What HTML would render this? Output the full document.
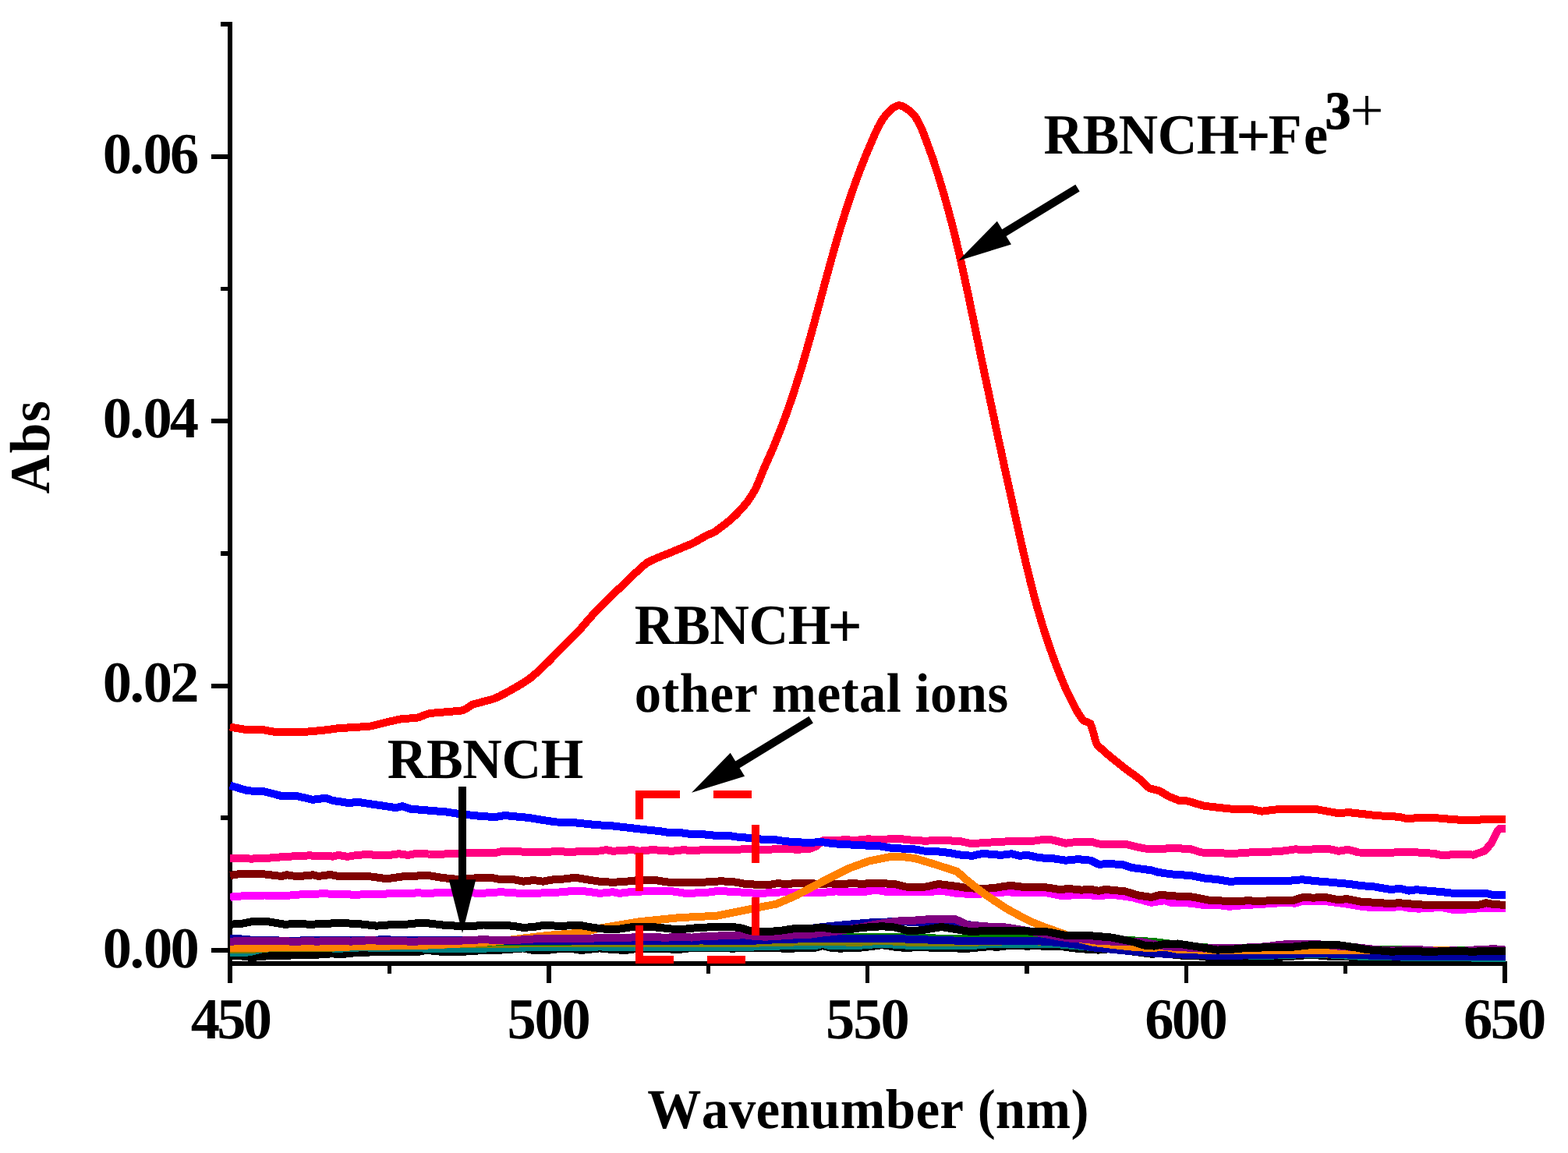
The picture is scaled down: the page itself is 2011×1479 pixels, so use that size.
<!DOCTYPE html>
<html lang="en"><head><meta charset="utf-8"><title>Absorbance spectra: RBNCH with Fe3+ and other metal ions</title>
<style>html,body{margin:0;padding:0;background:#fff}body{width:2011px;height:1479px;overflow:hidden}svg{display:block}text{font-family:"Liberation Serif",serif;font-weight:bold;font-kerning:none;fill:#000;white-space:pre;text-rendering:geometricPrecision}.c path{fill:none;stroke-linejoin:round;stroke-linecap:butt}</style></head><body>
<svg width="2011" height="1479" viewBox="0 0 2011 1479" role="img" aria-label="Absorbance spectra of RBNCH with Fe3+ and other metal ions">
<rect width="2011" height="1479" fill="#fff"/>
<g fill="#000" shape-rendering="crispEdges"><rect x="292" y="28" width="6" height="1233"/><rect x="292" y="1233" width="1641" height="6"/><rect x="271" y="198" width="22" height="6"/><rect x="271" y="537" width="22" height="6"/><rect x="271" y="877" width="22" height="6"/><rect x="271" y="1216" width="22" height="6"/><rect x="283" y="28" width="10" height="6"/><rect x="283" y="368" width="10" height="5"/><rect x="283" y="707" width="10" height="6"/><rect x="283" y="1046" width="10" height="6"/><rect x="701" y="1238" width="6" height="23"/><rect x="1110" y="1238" width="5" height="23"/><rect x="1519" y="1238" width="5" height="23"/><rect x="1927" y="1238" width="6" height="23"/><rect x="497" y="1238" width="5" height="11"/><rect x="906" y="1238" width="5" height="11"/><rect x="1314" y="1238" width="6" height="11"/><rect x="1723" y="1238" width="5" height="11"/></g>
<g class="c" shape-rendering="crispEdges"><path d="M295.2 1100.6 L308.75 1101.04 L322.3 1101.6 L336.37 1101.02 L350.43 1100.31 L364.5 1098.9 L380.15 1098.27 L395.8 1097.42 L411.45 1097.8 L427.1 1098.6 L433.8 1096.9 L445.7 1098.9 L457.5 1096.9 L471.6 1096.01 L485.7 1097.18 L499.8 1096.9 L511.6 1095.2 L523.4 1096.9 L533.6 1094.9 L550.5 1095.55 L567.4 1095.57 L584.3 1095.2 L600 1093.9 L616.9 1094.49 L633.8 1094.4 L644 1091.8 L664.2 1091.8 L676.1 1093.5 L701.4 1093.2 L715 1091.5 L731.9 1093.5 L743.7 1091.8 L769.1 1091.5 L777.5 1090.1 L786 1091.8 L811.3 1090.1 L819.8 1091.8 L836.7 1090.1 L862 1091.8 L877.3 1090.1 L887.4 1091.5 L904.3 1089.8 L922.15 1090.31 L940 1089.8 L959.2 1089.25 L978.4 1089.8 L993.3 1089.42 L1008.2 1088.89 L1023.1 1089.8 L1040 1088.5 L1047 1085.3 L1055.9 1077.9 L1069.83 1078.38 L1083.77 1077.15 L1097.7 1077.9 L1112.6 1076.4 L1127.55 1076.76 L1142.5 1076.4 L1157.4 1076.39 L1172.3 1078 L1187.2 1078.7 L1202.1 1077.9 L1217.05 1078.27 L1232 1079.3 L1246.9 1082.3 L1262 1081 L1280 1080 L1293.8 1079.24 L1307.6 1079.2 L1321.7 1079.23 L1335.8 1077.27 L1349.9 1077.5 L1366.8 1081.7 L1383.7 1079.53 L1400.6 1080 L1409.1 1082.5 L1426 1082.82 L1442.9 1082.5 L1459.8 1086.8 L1473.3 1089.3 L1490.2 1089.3 L1502 1087.6 L1527.4 1089.3 L1540.9 1093.5 L1560 1093.9 L1576.9 1094.9 L1593.8 1094.33 L1610.7 1092.61 L1627.6 1092.7 L1644.5 1091.7 L1661.4 1089.3 L1675.5 1090.43 L1689.6 1088.7 L1703.7 1088.8 L1717.2 1091.8 L1729.1 1089.8 L1742.6 1093.5 L1756.95 1093.66 L1771.3 1094.4 L1788.2 1093.5 L1805.13 1093.03 L1822.07 1093.6 L1839 1094.9 L1847.4 1096.6 L1861.5 1096.49 L1875.6 1095.81 L1889.7 1096.6 L1904.4 1091.4 L1913.2 1080.9 L1920.2 1066.8 L1923.7 1062.9 L1931 1062.9" stroke="#ff0080" stroke-width="10" /><path d="M295.2 1150.7 L309.87 1149.44 L324.53 1149.4 L339.2 1148.5 L352.49 1148.81 L365.77 1149.14 L379.06 1147.74 L392.34 1147.11 L405.63 1146.55 L418.91 1146.37 L432.2 1147.3 L457.5 1147.6 L474.4 1147.22 L491.3 1146.8 L506.1 1145.77 L520.9 1146.06 L535.7 1145.36 L550.5 1145.9 L567 1144.84 L583.5 1144.86 L600 1145.1 L616.9 1145.9 L642.3 1144.2 L667.6 1145.9 L684.5 1146.01 L701.4 1145.1 L718.35 1144.47 L735.3 1142.9 L752.2 1143.54 L769.1 1145.9 L786 1144.2 L794.4 1145.9 L811.3 1143.77 L828.2 1143.4 L845.1 1142.9 L862.05 1143.23 L879 1145.9 L904.3 1145.1 L921.2 1142.9 L945.4 1144.2 L970.7 1145.9 L987.6 1145.34 L1004.5 1144.2 L1018.04 1144.85 L1031.58 1144.92 L1045.12 1144.91 L1058.66 1144.63 L1072.2 1143.4 L1089 1144.2 L1105.95 1144.42 L1122.9 1141.7 L1139.8 1144.26 L1156.7 1144.2 L1173.6 1144.25 L1190.5 1144.2 L1207.4 1142.6 L1224.3 1145.49 L1241.2 1146.8 L1260 1146.5 L1275.35 1145.68 L1290.7 1144.2 L1307.6 1145.21 L1324.5 1145.26 L1341.4 1145.1 L1358.3 1148.5 L1372.4 1148.55 L1386.5 1148.22 L1400.6 1148.5 L1409.1 1149.3 L1426 1147.6 L1451.3 1151 L1476.7 1157.8 L1493.6 1155.2 L1502 1157.8 L1527.4 1158.6 L1544.3 1161.1 L1561.2 1160.8 L1576.9 1162.8 L1593.8 1161.27 L1610.7 1160.3 L1627.6 1159.2 L1644.5 1158.08 L1661.4 1158.6 L1669.9 1156.1 L1685.1 1156.32 L1700.3 1156.1 L1720.6 1158.6 L1746 1162.8 L1762.9 1164.4 L1779.8 1164.5 L1796.7 1162.8 L1805.1 1164.5 L1819.2 1165.64 L1833.3 1165.02 L1847.4 1163.7 L1864.3 1167.1 L1889.7 1166.2 L1900 1164.5 L1915.5 1165.34 L1931 1165" stroke="#ff00ff" stroke-width="10" /><path d="M295.2 1123.1 L305.4 1121.4 L322.3 1120.54 L339.2 1121.4 L361.1 1124 L367.9 1122.3 L381.4 1124.3 L401.7 1122.3 L408.5 1124 L423.7 1121.9 L435.5 1124.3 L454.95 1124.36 L474.4 1124.3 L496.4 1127.3 L516.7 1124.3 L531.9 1123.81 L547.1 1122.6 L567.4 1126 L584.3 1127.7 L601.2 1127.3 L613.5 1126 L630.4 1126 L642.3 1128.2 L659.2 1128.2 L671 1130.7 L684.5 1129 L696.4 1130.7 L709.9 1128.2 L726.8 1127.3 L736.9 1125.6 L752.2 1128.2 L769.1 1130.7 L786 1131.83 L802.9 1130.7 L819.8 1129 L840.1 1129 L862 1132.4 L878.95 1132.41 L895.9 1132.4 L912.8 1130.7 L926.55 1130.37 L940.3 1131.1 L957.2 1134.1 L972.4 1134.77 L987.6 1134.9 L996.1 1133.3 L1010.17 1133.77 L1024.23 1133.08 L1038.3 1133.3 L1051.84 1133.71 L1065.38 1133.41 L1078.92 1134.17 L1092.46 1133.12 L1106 1133.8 L1122.9 1132.7 L1148.2 1134.1 L1161.8 1137.5 L1187.1 1137.5 L1204 1134.1 L1224.3 1136.6 L1241.2 1139.2 L1260 1140 L1273.8 1139.2 L1295.8 1135.8 L1316.1 1138.3 L1341.4 1138.3 L1358.3 1140.9 L1372.4 1140.13 L1386.5 1141.59 L1400.6 1141.2 L1409.1 1142.9 L1417.5 1140.9 L1442.9 1143.4 L1459.8 1148.5 L1476.7 1151 L1488.5 1147.6 L1502 1149.3 L1527.4 1150.2 L1552.8 1155.2 L1569.1 1155.56 L1585.4 1156.1 L1602.3 1155.2 L1614.1 1156.4 L1627.6 1155.2 L1642.85 1154.63 L1658.1 1155.2 L1669.9 1151.3 L1685.1 1151.56 L1700.3 1151 L1717.2 1154.4 L1727.4 1153 L1746 1156.9 L1771.3 1158.1 L1783.2 1159.5 L1793.3 1158.1 L1813.6 1159.8 L1830.5 1160.93 L1847.4 1161.1 L1861.5 1160.54 L1875.6 1160.96 L1889.7 1161.1 L1900 1160.3 L1906.1 1158.2 L1914.9 1160 L1931 1160.9" stroke="#800000" stroke-width="10" /><path d="M295 1226.2 L310 1226.4 L320 1227.8 L335 1227.3 L345 1226 L358 1226.05 L371 1226 L376 1224.5 L395 1225.1 L414 1224.3 L425 1223.3 L438 1224.19 L451 1222.57 L464 1222 L485 1221 L500.85 1221.45 L516.7 1220.6 L533.6 1221.4 L547.1 1218.9 L567.4 1220.9 L592.8 1220.6 L606.4 1220.34 L620 1218.6 L635.35 1219.04 L650.7 1218.1 L671 1216.4 L684.5 1219 L701.4 1219 L718.3 1217 L735.3 1217.3 L745.4 1219 L769.1 1216.4 L786 1218.1 L802.9 1219 L819.8 1216.4 L836.7 1217.3 L853.6 1217.15 L870.5 1218.1 L887.4 1215.96 L904.3 1216.4 L920.8 1215.57 L937.3 1216.57 L953.8 1216.4 L967.32 1215.93 L980.84 1216.19 L994.36 1215.9 L1007.88 1216.94 L1021.4 1216.4 L1046.8 1215.5 L1055.2 1213 L1063.7 1215.5 L1077.8 1216.72 L1091.9 1215.83 L1106 1215.5 L1131.3 1212.2 L1148.2 1214.7 L1162.3 1216.21 L1176.4 1214.83 L1190.5 1215.5 L1207.4 1216.46 L1224.3 1216.4 L1240 1216.9 L1265.4 1214.4 L1280.6 1214.6 L1295.8 1212.7 L1316.1 1213.6 L1330.17 1213.31 L1344.23 1213.92 L1358.3 1213.6 L1375.2 1216.1 L1392.15 1217.62 L1409.1 1218.6 L1426 1216.9 L1451.3 1220.3 L1476.7 1223.7 L1493.6 1222.9 L1510.5 1225.4 L1535.9 1226.2 L1550.6 1228.09 L1565.3 1227.6 L1580 1228.5 L1595 1228.78 L1610 1229 L1623.33 1229.19 L1636.67 1228.36 L1650 1227 L1663.33 1226.36 L1676.67 1224.96 L1690 1225.4 L1703.33 1226.63 L1716.67 1226.98 L1730 1227.5 L1745 1229.42 L1760 1229 L1773.15 1228.78 L1786.31 1229.65 L1799.46 1230.06 L1812.62 1230.5 L1825.77 1228.74 L1838.92 1228.75 L1852.08 1228.06 L1865.23 1229.32 L1878.38 1229.03 L1891.54 1230.25 L1904.69 1229.54 L1917.85 1230.12 L1931 1229.5" stroke="#000" stroke-width="10" /><path d="M295 1221.7 L320 1221.5 L335 1217.5 L345 1216.3 L420 1216.3 L434 1216.8 L464 1215.3 L485 1215.8 L540 1216.5 L600 1217 L700 1215 L769 1214.5 L940 1215.3 L1000 1213.5 L1046 1213 L1055 1211 L1064 1213 L1100 1213 L1131 1210.5 L1160 1212.5 L1240 1213.5 L1265 1211.5 L1300 1210.8 L1360 1211.5 L1400 1215 L1450 1218 L1500 1221 L1560 1224.5 L1620 1226 L1690 1223.5 L1750 1227 L1931 1229" stroke="#008080" stroke-width="10" /><path d="M295 1217.8 L330 1217.5 L345 1216.3 L420 1216.3 L434 1215 L464 1214 L485 1212.3 L540 1212 L600 1211.1 L700 1210.2 L769 1210.2 L940 1210.2 L1000 1209 L1055 1207.5 L1100 1209 L1131 1206.5 L1160 1208.5 L1240 1209 L1300 1207 L1360 1208 L1400 1211 L1450 1215 L1500 1219 L1560 1222 L1931 1226" stroke="#808000" stroke-width="10" /><path d="M295 1211 L700 1208 L900 1205 L1000 1203.5 L1075 1202 L1150 1202 L1200 1203.5 L1240 1204 L1270 1204.5 L1320 1204 L1380 1205 L1440 1205.5 L1480 1208 L1520 1213 L1560 1216.5 L1640 1215.5 L1700 1213 L1760 1218 L1931 1219.5" stroke="#008000" stroke-width="10" /><path d="M295 1208 L900 1204 L1000 1196 L1055 1189 L1089 1185.7 L1123 1182.8 L1148 1182.3 L1200 1183 L1240 1186 L1300 1192 L1350 1198 L1400 1206 L1450 1212 L1500 1218 L1560 1222 L1931 1224" stroke="#0000a0" stroke-width="10" /><path d="M295 1203.9 L310 1204.5 L330 1206.3 L345 1206 L370 1207 L400 1206 L430 1206.5 L450 1206 L485 1205.5 L495 1204.8 L505 1206 L560 1206.5 L600 1207.5 L700 1207 L800 1207 L900 1206.5 L960 1207 L1000 1205 L1055 1203.8 L1140 1203.8 L1190 1205.5 L1240 1207 L1290.7 1206.8 L1341.4 1207.6 L1375.2 1211 L1400.6 1215.2 L1442.9 1219.5 L1493.6 1223.7 L1544.3 1225.5 L1580 1225.8 L1640 1224.5 L1690 1223 L1740 1225 L1800 1227 L1931 1227.5" stroke="#0000a0" stroke-width="10" /><path d="M295 1216 L450 1214.5 L550 1212.5 L620 1209 L650.7 1206 L701.4 1200 L743.7 1196.7 L769.1 1190.7 L819.8 1182.3 L870.5 1177.2 L920 1174.7 L962.3 1166.2 L996.1 1159.5 L1021.4 1148.5 L1055.2 1130.7 L1089 1113.8 L1114.4 1104.5 L1139.8 1099.4 L1156.7 1098.9 L1173.6 1101.1 L1198.9 1108.7 L1227.7 1118 L1237.8 1127.3 L1256.9 1142.6 L1273.8 1154.4 L1290.7 1165.4 L1307.6 1174.7 L1324.5 1183.1 L1341.4 1189.9 L1358.3 1195.8 L1375.2 1202 L1400.6 1208.6 L1426 1211.9 L1451.3 1214.5 L1476.7 1216.2 L1493.6 1214.5 L1510.5 1217.9 L1544.3 1218.7 L1580 1219.3 L1700 1219 L1931 1219.7" stroke="#ff8000" stroke-width="10" /><path d="M295 1207.6 L309.09 1207.3 L323.18 1207.42 L337.27 1207.34 L351.36 1207.36 L365.45 1207.29 L379.55 1207.81 L393.64 1207.16 L407.73 1207.7 L421.82 1206.57 L435.91 1206.7 L450 1207.6 L463.64 1206.69 L477.27 1206.18 L490.91 1207.19 L504.55 1206.61 L518.18 1207.33 L531.82 1207.94 L545.45 1206.58 L559.09 1207.3 L572.73 1207.36 L586.36 1206.99 L600 1206 L616.9 1205.34 L633.8 1205.61 L650.7 1206 L667.6 1205.54 L684.5 1204.46 L701.4 1204.3 L718.33 1203.51 L735.27 1203.53 L752.2 1204.3 L769.1 1202.85 L786 1203.4 L802.9 1202.6 L819.8 1202.37 L836.7 1202.33 L853.6 1202.6 L870.5 1202.23 L887.4 1202.54 L904.3 1200.9 L922.15 1200.48 L940 1200 L954.02 1199.23 L968.05 1201.05 L982.08 1201.68 L996.1 1200.9 L1021.4 1199.2 L1038.2 1198.94 L1055 1196.5 L1072 1194.79 L1089 1192 L1106 1189 L1122.9 1185.71 L1139.8 1183.1 L1156.7 1180.94 L1173.6 1180.6 L1190.5 1179.19 L1207.4 1179 L1224.3 1178.9 L1232.8 1182.3 L1241.2 1186.5 L1260 1188 L1273.8 1189 L1290.7 1189.54 L1307.6 1192.4 L1324.5 1195.26 L1341.4 1198.3 L1358.2 1201.61 L1375 1204 L1392 1204.64 L1409 1207 L1425.93 1207.57 L1442.87 1207.55 L1459.8 1207.6 L1480 1211 L1495.25 1213.99 L1510.5 1215 L1527.33 1215.76 L1544.17 1216.56 L1561 1216.1 L1577.33 1216 L1593.67 1215.74 L1610 1215 L1625 1214.17 L1640 1212.02 L1655 1210.78 L1670 1211 L1686.67 1210.86 L1703.33 1212.28 L1720 1214 L1737 1214.92 L1754 1216.88 L1771 1218.6 L1784.33 1218.87 L1797.67 1218.5 L1811 1218.16 L1824.33 1218.43 L1837.67 1219.52 L1851 1219.64 L1864.33 1219.41 L1877.67 1219.66 L1891 1218.48 L1904.33 1217.67 L1917.67 1217.29 L1931 1218.6" stroke="#800080" stroke-width="10" /><path d="M295 1007.6 L317.6 1014.3 L338.5 1015.3 L359.4 1020.6 L380.3 1021 L401.1 1025.8 L417.8 1023.7 L426.2 1026.8 L447.1 1030 L459.6 1028.9 L480.5 1032.1 L494.1 1034.05 L507.7 1036.2 L516 1034.1 L526.5 1037.7 L547.3 1039.4 L572.4 1041.5 L589.1 1044 L614.2 1046.7 L635 1048.1 L647.6 1046 L662.2 1047.48 L676.8 1048.8 L700 1052.5 L713.23 1054.47 L726.47 1054.86 L739.7 1055.5 L753.42 1056.98 L767.14 1058.37 L780.86 1058.83 L794.58 1060.47 L808.3 1062 L826.2 1064.13 L844.1 1065.9 L859.03 1068.13 L873.97 1068.33 L888.9 1070.4 L903.8 1070.46 L918.7 1071.9 L933.6 1071.69 L948.5 1074.04 L963.4 1074.9 L978.33 1076.85 L993.27 1077.04 L1008.2 1079.3 L1023.13 1080.21 L1038.07 1081.04 L1053 1079.9 L1067.9 1082.14 L1082.8 1083.18 L1097.7 1083.8 L1112.63 1084.65 L1127.57 1085.13 L1142.5 1087.7 L1157.4 1088.59 L1172.3 1089.3 L1187.2 1091.9 L1202.13 1092.25 L1217.07 1093.92 L1232 1096.6 L1246.9 1097.8 L1260.3 1094.9 L1284 1096.9 L1297.5 1095.2 L1307.6 1097.8 L1317.8 1096.9 L1333 1100.3 L1349.9 1101.1 L1366.8 1103.7 L1382.85 1102.16 L1398.9 1103.7 L1409.1 1108.7 L1424.3 1108.13 L1439.5 1109.1 L1451.3 1113 L1476.7 1116.3 L1485.1 1118.9 L1502 1121.4 L1527.4 1123.1 L1544.3 1126.5 L1561.2 1128.2 L1576.9 1130.7 L1602.3 1129.9 L1619.2 1129.67 L1636.1 1130.4 L1653 1129.84 L1669.9 1128.2 L1686.8 1130.13 L1703.7 1131.5 L1729.1 1133.8 L1746 1136.09 L1762.9 1137.5 L1783.2 1140.9 L1796.7 1140 L1806.8 1142.6 L1817 1141.2 L1832.2 1142.75 L1847.4 1143.9 L1864.3 1145.9 L1878.23 1146.35 L1892.17 1146.01 L1906.1 1145.9 L1914.9 1148 L1931 1148" stroke="#0000ff" stroke-width="10" /><path d="M295.2 1185.7 L308.75 1185.02 L322.3 1182.3 L344.2 1182.3 L364.5 1185.7 L381.4 1185.09 L398.3 1185.7 L415.25 1185.09 L432.2 1184 L457.5 1184.8 L482.9 1187.7 L499.8 1186.31 L516.7 1186.2 L542 1183.5 L567.4 1186.5 L592.8 1188.2 L606.4 1188.13 L620 1186.5 L642.3 1186.8 L656.65 1187.64 L671 1189.9 L684.5 1189 L698.1 1186.8 L718.3 1187.9 L743.7 1186.8 L760.6 1189.9 L777.5 1191.9 L794.4 1191.6 L811.3 1189 L836.7 1189 L862 1191.6 L879 1191.6 L895.9 1189.9 L921.2 1189 L936.9 1189 L948.7 1189.9 L962.3 1194.1 L987.6 1195 L1004.5 1193.36 L1021.4 1190.7 L1038.3 1190.93 L1055.2 1189.9 L1072.2 1192.4 L1089.1 1192.22 L1106 1189.9 L1131.3 1188.2 L1148.2 1189.6 L1165.1 1194.1 L1182.1 1193.3 L1207.4 1189 L1232.8 1193.3 L1246.4 1195.28 L1260 1194.1 L1275.35 1193.99 L1290.7 1193.6 L1307.6 1193.77 L1324.5 1194.86 L1341.4 1195 L1366.8 1200 L1383.7 1199.86 L1400.6 1200.4 L1426 1202.6 L1451.3 1207.6 L1468.2 1212.7 L1480.1 1213.6 L1493.6 1211 L1510.5 1210.5 L1535.9 1214.4 L1561.2 1218.6 L1580 1217.8 L1595.35 1216.28 L1610.7 1216.1 L1627.6 1214.63 L1644.5 1215.35 L1661.4 1214.4 L1686.8 1211.5 L1712.2 1211.5 L1737.5 1215.2 L1754.4 1218.35 L1771.3 1219.5 L1785.4 1220.77 L1799.5 1219.72 L1813.6 1220 L1830.5 1220.88 L1847.4 1220.42 L1864.3 1220 L1889.7 1220.7 L1903.47 1220.07 L1917.23 1219.96 L1931 1220" stroke="#000" stroke-width="10" /><path d="M295 932.5C296.34 932.72 314.92 936.01 317.3 936.2C319.68 936.39 332.61 935.55 334.7 935.7C336.79 935.85 348.67 938.52 352.1 938.7C355.53 938.88 387.87 938.85 391.9 938.7C395.93 938.55 416.66 936.47 419.2 936.2C421.74 935.93 430.92 934.47 434.2 934.2C437.48 933.93 470.47 932.1 473.9 931.7C477.33 931.3 488.91 928.05 491.3 927.5C493.69 926.95 511.01 922.92 513.7 922.5C516.39 922.08 533.86 920.94 536.1 920.5C538.34 920.06 547.57 915.65 551 915.1C554.43 914.55 590.02 911.97 593.3 911.3C596.58 910.63 603.31 904.79 605.7 903.9C608.09 903.01 630.26 897.44 633.1 896.4C635.94 895.36 650.32 887.99 653 886.5C655.68 885.01 675.44 873.24 677.8 871.6C680.16 869.96 690.8 860.65 692.4 859.2C694 857.75 703.04 848.95 704.5 847.5C705.96 846.05 715.24 836.49 716.7 835C718.16 833.51 727.56 824.04 728.9 822.7C730.24 821.36 738.03 813.59 739 812.6C739.97 811.61 743.79 807.57 745 806.2C746.21 804.83 757.5 791.65 759.2 789.8C760.9 787.95 771.7 777.02 773.4 775.3C775.1 773.58 785.9 762.76 787.6 761.1C789.3 759.44 800.1 749.33 801.8 747.7C803.5 746.07 814.3 735.56 816 734C817.7 732.44 828.5 722.84 830.2 721.7C831.9 720.56 842.7 715.74 844.4 715C846.1 714.26 856.9 710 858.6 709.3C860.3 708.6 871.1 704.11 872.8 703.4C874.5 702.69 885.67 698.11 887 697.5C888.33 696.89 893.87 693.92 895 693.3C896.13 692.68 904.5 687.76 905.8 687.1C907.1 686.44 915.3 683.08 916.6 682.3C917.9 681.52 926.2 675.11 927.5 674.1C928.8 673.09 937 666.66 938.3 665.5C939.6 664.34 947.8 656.13 949.1 654.7C950.4 653.27 958.69 643.39 959.9 641.7C961.11 640.01 968.38 628.25 969.3 626.5C970.22 624.75 974.64 614.09 975.3 612.5C975.96 610.91 979.33 602.25 980.3 600C981.27 597.75 990.13 578 991.4 575C992.67 572 1000.34 553 1001.5 550C1002.66 547 1009.64 528 1010.7 525C1011.76 522 1018.12 503 1019.1 500C1020.08 497 1026.09 478 1027 475C1027.91 472 1033.44 453 1034.3 450C1035.16 447 1040.47 428 1041.3 425C1042.13 422 1047.29 403 1048.1 400C1048.91 397 1054 378 1054.8 375C1055.6 372 1060.68 353 1061.5 350C1062.32 347 1067.55 328 1068.4 325C1069.25 322 1074.71 303 1075.6 300C1076.49 297 1082.35 278 1083.3 275C1084.25 272 1090.47 253 1091.5 250C1092.53 247 1099.28 228 1100.4 225C1101.52 222 1108.88 203 1110.1 200C1111.32 197 1119.95 176.97 1120.8 175C1121.65 173.03 1123.88 168.09 1124.3 167.2C1124.72 166.31 1127.38 160.98 1127.8 160.2C1128.22 159.42 1130.88 154.87 1131.3 154.2C1131.72 153.53 1134.38 149.66 1134.8 149.1C1135.22 148.54 1137.88 145.36 1138.3 144.9C1138.72 144.44 1141.38 141.78 1141.8 141.4C1142.22 141.02 1144.88 138.89 1145.3 138.6C1145.72 138.31 1148.38 136.69 1148.8 136.5C1149.22 136.31 1151.88 135.45 1152.3 135.4C1152.72 135.35 1155.38 135.59 1155.8 135.7C1156.22 135.81 1158.88 136.98 1159.3 137.2C1159.72 137.42 1162.38 139.12 1162.8 139.4C1163.22 139.68 1165.88 141.56 1166.3 141.9C1166.72 142.24 1169.38 144.57 1169.8 145C1170.22 145.43 1172.88 148.52 1173.3 149.1C1173.72 149.68 1176.38 153.86 1176.8 154.6C1177.22 155.34 1179.88 160.51 1180.3 161.4C1180.72 162.29 1183.46 168.68 1183.8 169.5C1184.14 170.32 1185.22 173.17 1185.9 175C1186.58 176.83 1194.06 197 1195.1 200C1196.14 203 1202.36 222 1203.3 225C1204.24 228 1209.94 247 1210.8 250C1211.66 253 1216.9 272 1217.7 275C1218.5 278 1223.36 297 1224.1 300C1224.84 303 1229.4 322 1230.1 325C1230.8 328 1235.04 347 1235.7 350C1236.36 353 1240.46 372 1241.1 375C1241.74 378 1245.68 397 1246.3 400C1246.92 403 1250.78 422 1251.4 425C1252.02 428 1255.98 447 1256.6 450C1257.22 453 1261.17 472 1261.8 475C1262.43 478 1266.46 497 1267.1 500C1267.74 503 1271.76 522 1272.4 525C1273.04 528 1277.06 547 1277.7 550C1278.34 553 1282.45 572 1283.1 575C1283.75 578 1287.85 597 1288.5 600C1289.15 603 1293.34 622 1294 625C1294.66 628 1298.84 647 1299.5 650C1300.16 653 1304.33 672 1305 675C1305.67 678 1309.92 697 1310.6 700C1311.28 703 1315.69 722 1316.4 725C1317.11 728 1321.74 747 1322.5 750C1323.26 753 1328.27 772 1329.1 775C1329.93 778 1335.48 797 1336.4 800C1337.32 803 1343.39 822 1344.4 825C1345.41 828 1352.17 847 1353.3 850C1354.43 853 1362.38 872.75 1363.3 875C1364.22 877.25 1367.63 885.29 1368.7 887.5C1369.77 889.71 1379.87 909.61 1381.1 911.8C1382.33 913.99 1388.16 923.02 1389.2 924C1390.24 924.98 1397.61 927.13 1398.4 928.1C1399.19 929.07 1401.91 938.62 1402.4 940.2C1402.89 941.78 1405.34 952.7 1406.5 954.4C1407.66 956.1 1419.57 966.77 1421.7 968.6C1423.83 970.43 1439.56 983.01 1442 984.9C1444.44 986.79 1460.36 998.52 1462.3 1000.1C1464.24 1001.68 1472.94 1010.35 1474.4 1011.2C1475.86 1012.05 1485.14 1013.69 1486.6 1014.3C1488.06 1014.91 1497.22 1020.63 1498.8 1021.4C1500.38 1022.17 1511.54 1026.73 1513 1027.1C1514.46 1027.47 1521.28 1027.12 1523.1 1027.5C1524.92 1027.88 1540.96 1032.99 1543.4 1033.5C1545.84 1034.01 1561.26 1035.73 1563.7 1036C1566.14 1036.27 1581.56 1037.88 1584 1038C1586.44 1038.12 1602.23 1037.84 1604.3 1038C1606.37 1038.16 1616.68 1040.56 1618.5 1040.6C1620.32 1040.64 1632.64 1038.78 1634.7 1038.6C1636.76 1038.42 1650.46 1037.64 1652.9 1037.6C1655.34 1037.56 1673.29 1037.99 1675.3 1038C1677.31 1038.01 1683.94 1037.49 1686.4 1037.8C1688.86 1038.11 1713.67 1042.84 1716.3 1043.1C1718.93 1043.36 1727.35 1042.02 1730.3 1042.2C1733.25 1042.38 1761.7 1045.76 1765.5 1046.1C1769.3 1046.44 1791.18 1047.54 1793.6 1047.8C1796.02 1048.06 1804.42 1050.43 1805.9 1050.5C1807.38 1050.57 1816.09 1048.98 1818.2 1048.9C1820.31 1048.82 1838.46 1049.07 1841.1 1049.2C1843.74 1049.33 1859.57 1050.81 1862.2 1051C1864.83 1051.19 1882.37 1052.4 1885 1052.4C1887.63 1052.4 1903.34 1051.08 1906.1 1051C1908.86 1050.92 1929.51 1051 1931 1051" stroke="#ff0000" stroke-width="10"/></g>
<g fill="#ff0000" shape-rendering="crispEdges"><rect x="815" y="1014" width="57" height="10"/><rect x="915" y="1014" width="49" height="10"/><rect x="815" y="1014" width="10" height="36.5"/><rect x="815" y="1094" width="10" height="49"/><rect x="815" y="1187" width="10" height="49"/><rect x="815" y="1226" width="49" height="10"/><rect x="907" y="1226" width="49" height="10"/><rect x="964" y="1058" width="10" height="49"/><rect x="964" y="1151" width="10" height="49"/></g>
<g fill="#000"><polygon points="1379.32,236.7 1283.5,295.19 1288.87,303.99 1384.68,245.5"/><polygon points="1229,334.5 1278.83,283.7 1296.96,313.4"/><polygon points="1037.51,918.81 941.49,977.47 946.86,986.26 1042.89,927.59"/><polygon points="887,1016.8 936.7,965.81 955.06,995.84"/><polygon points="588,1009 588,1130.2 598,1130.2 598,1009"/><polygon points="593,1197 575.65,1128.2 610.35,1128.2"/></g>
<text><tspan x="131.86 166.55 183.9 218.59" y="1241.4" font-size="74.5">0.00</tspan></text><text><tspan x="131.86 166.38 183.64 218.15" y="900.4" font-size="74.5">0.02</tspan></text><text><tspan x="131.86 166.21 183.38 217.73" y="561" font-size="74.5">0.04</tspan></text><text><tspan x="131.86 166.29 183.5 217.93" y="222.4" font-size="74.5">0.06</tspan></text><text><tspan x="244.78 278.28 311.79" y="1332" font-size="74.5">450</tspan></text><text><tspan x="650.62 685.6 720.59" y="1332" font-size="74.5">500</tspan></text><text><tspan x="1059.02 1094.2 1129.39" y="1332" font-size="74.5">550</tspan></text><text><tspan x="1468.15 1502.87 1537.59" y="1332" font-size="74.5">600</tspan></text><text><tspan x="1876.95 1911.42 1945.89" y="1332" font-size="74.5">650</tspan></text><text transform="scale(0.96 1)"><tspan x="864.81 937.32 973.58 1009.83 1042.01 1082.34 1122.66 1183.06 1223.39 1255.57 1287.75 1305.88 1330.03 1370.35 1430.75" y="1447.2" font-size="72">Wavenumber (nm)</tspan></text><text transform="translate(63.3 632.9) rotate(-90) scale(0.96 1)"><tspan x="-0.71 53.66 95.54" y="0" font-size="72.5">Abs</tspan></text><text transform="scale(0.96 1)"><tspan x="517.4 569.69 617.98 670.27 722.56" y="997.9" font-size="73">RBNCH</tspan></text><text transform="scale(0.96 1)"><tspan x="847.61 899.92 948.24 1000.55 1052.87" y="826.3" font-size="73">RBNCH</tspan><tspan x="1105.82" y="829.93" font-size="80.95">+</tspan></text><text transform="scale(0.96 1)"><tspan x="847.59 883.88 908.05 948.41 980.62 1012.84 1030.98 1091.44 1123.65 1147.82 1184.11 1204.27 1222.42 1242.58 1278.87 1319.23" y="912.5" font-size="71.5">other metal ions</tspan></text><text transform="scale(0.96 1)"><tspan x="1394.17 1446.27 1494.39 1546.49 1598.6" y="196.9" font-size="73">RBNCH</tspan><tspan x="1651.33" y="200.55" font-size="81.17">+</tspan><tspan x="1694.59 1741.57" y="196.9" font-size="73">Fe</tspan><tspan x="1770.28" y="164.73" font-size="68.61" stroke="#000" stroke-width="1.3" stroke-linejoin="round">3</tspan><tspan x="1803.59" y="168.34" font-size="79.49" font-weight="normal">+</tspan></text>
</svg></body></html>
